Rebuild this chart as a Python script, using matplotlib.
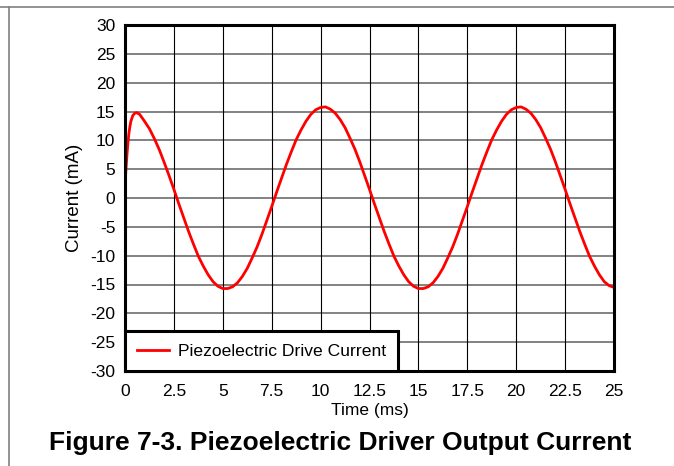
import numpy as np
import matplotlib.pyplot as plt
from matplotlib.lines import Line2D

plt.rcParams['font.family'] = ['Liberation Sans', 'DejaVu Sans']
plt.rcParams['axes.unicode_minus'] = False

# drive current samples, time in ms, current in mA
t_start = [0.0, 0.05, 0.1, 0.15, 0.2, 0.25, 0.3, 0.4, 0.5, 0.6, 0.75]
i_start = [2.2, 5.0, 7.5, 9.6, 11.2, 12.4, 13.3, 14.3, 14.7, 14.8, 14.5]

t_main = [1.0, 1.25, 1.5, 1.75, 2.0, 2.25, 2.5, 2.75, 3.0, 3.25, 3.5, 3.75,
          4.0, 4.25, 4.5, 4.75, 5.0, 5.25, 5.5, 5.75, 6.0, 6.25, 6.5, 6.75,
          7.0, 7.25, 7.5, 7.75, 8.0, 8.25, 8.5, 8.75, 9.0, 9.25, 9.5, 9.75,
          10.0, 10.25, 10.5, 10.75, 11.0, 11.25, 11.5, 11.75, 12.0, 12.25,
          12.5, 12.75, 13.0, 13.25, 13.5, 13.75, 14.0, 14.25, 14.5, 14.75,
          15.0, 15.25, 15.5, 15.75, 16.0, 16.25, 16.5, 16.75, 17.0, 17.25,
          17.5, 17.75, 18.0, 18.25, 18.5, 18.75, 19.0, 19.25, 19.5, 19.75,
          20.0, 20.25, 20.5, 20.75, 21.0, 21.25, 21.5, 21.75, 22.0, 22.25,
          22.5, 22.75, 23.0, 23.25, 23.5, 23.75, 24.0, 24.25, 24.5, 24.75, 25.0]
i_main = [13.3, 12.0, 10.3, 8.4, 6.2, 3.9, 1.5, -1.0, -3.4, -5.8, -8.0, -10.1,
          -11.8, -13.3, -14.5, -15.3, -15.7, -15.7, -15.4, -14.7, -13.6, -12.2, -10.4, -8.5,
          -6.3, -3.9, -1.5, 1.0, 3.4, 5.8, 8.0, 10.1, 11.8, 13.3, 14.5, 15.3,
          15.7, 15.8, 15.4, 14.7, 13.6, 12.2, 10.4, 8.5, 6.3, 3.9,
          1.5, -1.0, -3.4, -5.8, -8.0, -10.1, -11.8, -13.3, -14.5, -15.3,
          -15.7, -15.7, -15.4, -14.7, -13.6, -12.2, -10.4, -8.5, -6.3, -3.9,
          -1.5, 1.0, 3.4, 5.8, 8.0, 10.1, 11.8, 13.3, 14.5, 15.3,
          15.7, 15.8, 15.4, 14.7, 13.6, 12.2, 10.4, 8.5, 6.3, 3.9,
          1.5, -1.0, -3.4, -5.8, -8.0, -10.1, -11.8, -13.3, -14.5, -15.2, -15.5]

time_ms = t_start + t_main
current_ma = i_start + i_main

x_ticks = [0, 2.5, 5, 7.5, 10, 12.5, 15, 17.5, 20, 22.5, 25]
x_labels = ['0', '2.5', '5', '7.5', '10', '12.5', '15', '17.5', '20', '22.5', '25']
y_ticks = list(range(-30, 31, 5))

fig = plt.figure(figsize=(6.74, 4.66), dpi=100)
ax = fig.add_axes([125/674, 1 - 371/466, 489/674, 346/466])

# page border lines
fig.add_artist(Line2D([0, 1], [1 - 7/466, 1 - 7/466], color='#808080', lw=1.2))
fig.add_artist(Line2D([9/674, 9/674], [0, 1 - 7/466], color='#808080', lw=1.2))

for yv in y_ticks:
    ax.axhline(yv, color='#606060', lw=1.1, zorder=1)
for xv in x_ticks:
    ax.axvline(xv, color='black', lw=0.8, zorder=1)

ax.plot(time_ms, current_ma, color='red', lw=2.0, zorder=3,
        label='Piezoelectric Drive Current')

ax.set_xlim(0, 25)
ax.set_ylim(-30, 30)
ax.set_xticks(x_ticks)
ax.set_xticklabels(x_labels)
ax.set_yticks(y_ticks)
ax.tick_params(axis='both', length=0, labelsize=12.5)
ax.tick_params(axis='x', pad=9)
ax.tick_params(axis='y', pad=7)
for s in ax.spines.values():
    s.set_linewidth(2.2)
    s.set_zorder(4)

ax.set_xlabel('Time (ms)', fontsize=12.5, labelpad=3)
ax.set_ylabel('Current (mA)', fontsize=13.5, labelpad=5)

leg = ax.legend(loc='lower left', borderaxespad=0, fontsize=12.6, fancybox=False,
                framealpha=1, edgecolor='black', handlelength=1.8,
                borderpad=0.7, handletextpad=0.5)
leg.get_frame().set_linewidth(2.2)
leg.set_zorder(5)

fig.text(340/674, 1 - 443/466,
         'Figure 7-3. Piezoelectric Driver Output Current',
         ha='center', va='center', fontsize=19, fontweight='bold')

fig.savefig('out.png', dpi=100)
